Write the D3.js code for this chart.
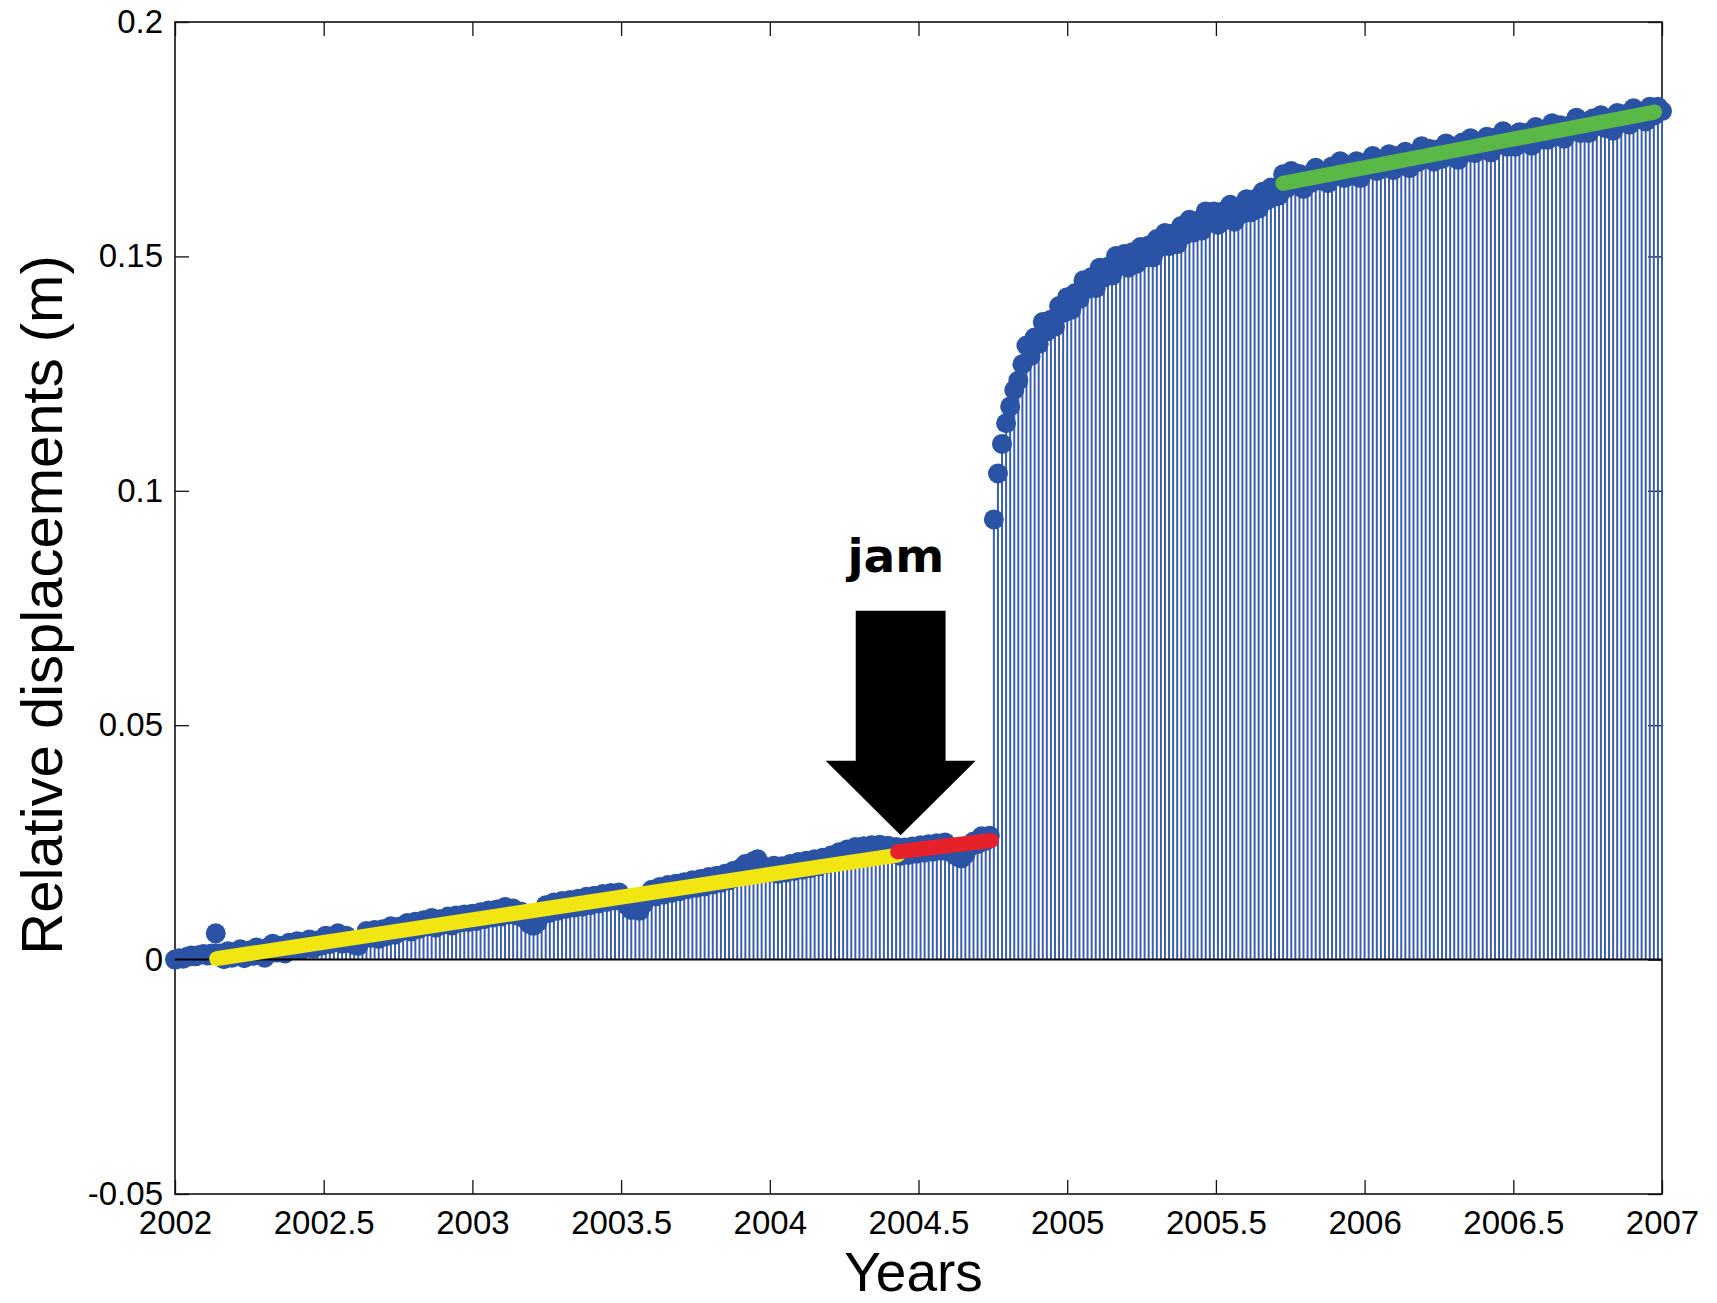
<!DOCTYPE html>
<html>
<head>
<meta charset="utf-8">
<script src="https://cdn.jsdelivr.net/npm/d3@7/dist/d3.min.js"></script>
<style>
  body { margin: 0; background: #fff; }
  svg text { font-family: "Liberation Sans", Arial, sans-serif; }
</style>
</head>
<body>
<svg id="svg-jam"></svg>
<script>
// displacement samples, one every 5 days (73 per year) from 2002.0, in mm
var sampleStart = 2002,
    samplesPerYear = 73;

var displacementMm = [
  0.0, 0.3, 0.2, 0.6, 0.9, 0.7, 1.0, 1.2, 0.9, 1.3,
  5.6, 1.3, 0.1, 1.8, 0.4, 1.6, 2.2, 0.3, 1.9, 0.8,
  2.6, 1.2, 0.4, 2.7, 3.4, 1.5, 2.9, 1.3, 3.6, 2.1,
  3.9, 2.0, 3.7, 4.3, 2.4, 4.1, 3.0, 5.1, 3.3, 4.5,
  5.6, 3.4, 5.1, 4.2, 3.1, 2.9, 4.4, 6.1, 4.6, 6.3,
  4.4, 6.5, 5.0, 7.1, 5.3, 7.0, 6.1, 7.8, 6.0, 8.1,
  6.6, 8.4, 7.1, 8.9, 6.8, 8.6, 7.5, 9.2, 7.3, 9.4,
  7.9, 9.6, 8.0, 9.8, 8.2, 10.1, 8.6, 10.5, 9.0, 10.7,
  9.2, 11.2, 9.6, 10.9, 9.4, 10.2, 8.6, 7.6, 7.2, 8.0,
  9.4, 11.6, 10.0, 12.2, 10.4, 12.5, 10.8, 12.7, 11.1, 13.0,
  11.3, 13.4, 11.6, 13.6, 12.0, 14.0, 12.3, 14.2, 12.6, 14.3,
  12.4, 11.5, 10.6, 11.0, 10.4, 11.9, 13.3, 14.9, 13.5, 15.5,
  13.9, 15.9, 14.2, 16.2, 14.6, 16.5, 15.0, 16.9, 15.3, 17.2,
  15.6, 17.6, 16.0, 17.9, 16.4, 18.3, 16.9, 18.9, 18.0, 19.6,
  20.4, 19.2, 21.0, 21.4, 20.2, 19.4, 18.6, 20.0, 18.3, 19.9,
  18.6, 20.4, 18.9, 20.8, 19.2, 21.1, 19.5, 21.4, 19.9, 21.7,
  20.4, 22.2, 21.0, 22.9, 21.6, 23.5, 22.4, 24.0, 22.8, 24.2,
  23.2, 24.4, 23.1, 24.5, 23.4, 24.3, 22.9, 24.0, 22.1, 23.9,
  22.3, 24.1, 22.6, 24.4, 22.8, 24.6, 23.0, 24.8, 23.2, 25.0,
  23.4, 22.6, 22.0, 21.6, 22.4, 24.0, 25.2, 24.6, 26.3, 25.3,
  26.4, 93.9, 103.7, 110.0, 114.4, 118.0, 121.5, 123.5, 127.0, 131.0,
  128.7, 132.7, 131.3, 136.0, 134.0, 136.5, 135.0, 139.4, 137.9, 141.3,
  138.6, 142.2, 140.9, 144.9, 143.1, 145.6, 143.2, 147.6, 145.5, 147.8,
  145.9, 150.1, 148.1, 150.5, 147.6, 150.9, 148.4, 152.0, 149.8, 152.3,
  149.8, 153.7, 152.0, 155.0, 152.2, 154.9, 152.6, 156.5, 154.7, 157.8,
  155.1, 157.6, 155.5, 159.6, 157.3, 159.6, 156.7, 159.5, 157.8, 161.0,
  157.4, 160.5, 159.1, 162.2, 159.4, 162.2, 160.2, 163.8, 162.0, 164.7,
  162.8, 163.0, 167.5, 164.6, 168.2, 165.7, 167.6, 164.4, 167.3, 165.7,
  168.9, 166.4, 168.0, 165.6, 169.2, 167.6, 170.3, 166.7, 169.1, 167.5,
  170.3, 166.7, 170.0, 168.7, 171.4, 168.2, 170.1, 169.0, 171.8, 168.4,
  171.4, 169.8, 172.3, 168.8, 171.5, 170.1, 173.5, 171.1, 172.9, 170.2,
  172.8, 170.8, 174.1, 171.9, 173.3, 170.6, 174.3, 172.2, 175.2, 172.0,
  174.0, 173.0, 175.5, 172.2, 175.3, 174.0, 176.7, 173.4, 175.5, 173.4,
  176.5, 174.8, 176.4, 173.6, 177.6, 174.9, 176.5, 174.9, 178.4, 175.9,
  178.0, 175.1, 177.8, 176.7, 179.6, 176.3, 178.6, 176.3, 179.4, 177.8,
  180.1, 177.4, 179.2, 176.8, 180.6, 178.5, 180.4, 178.1, 181.6, 179.3,
  180.8, 178.8, 181.9, 180.0, 181.9, 181.0
];

// linear fits drawn over the series: [year, metres]
var fitBefore = [[2002.14, 0.0002], [2004.43, 0.0223]],
    fitJam    = [[2004.43, 0.0230], [2004.745, 0.0254]],
    fitAfter  = [[2005.725, 0.1656], [2006.975, 0.1808]];

var xTicks = [2002, 2002.5, 2003, 2003.5, 2004, 2004.5, 2005, 2005.5, 2006, 2006.5, 2007],
    xTickLabels = ['2002', '2002.5', '2003', '2003.5', '2004', '2004.5', '2005', '2005.5', '2006', '2006.5', '2007'],
    yTicks = [-0.05, 0, 0.05, 0.1, 0.15, 0.2],
    yTickLabels = ['-0.05', '0', '0.05', '0.1', '0.15', '0.2'];

var width = 1717,
    height = 1303,
    plotLeft = 175, plotRight = 1662, plotTop = 22, plotBottom = 1194,
    x = d3.scaleLinear().domain([2002, 2007]).range([plotLeft, plotRight]),
    y = d3.scaleLinear().domain([-0.05, 0.2]).range([plotBottom, plotTop]),
    blue = '#2a53a6';

var points = displacementMm.map(function(v, i) {
  return {t: sampleStart + i / samplesPerYear, v: v / 1000};
});

var svg = d3.select('#svg-jam')
  .attr('width', width)
  .attr('height', height);

svg.append('rect')
  .attr('width', width).attr('height', height)
  .attr('fill', '#fff');

drawAxes();
drawStems();
drawFits();
drawJam();

function drawAxes() {
  var tick = 14;
  var gx = svg.append('g')
    .attr('transform', 'translate(0,' + plotBottom + ')')
    .call(d3.axisBottom(x).tickValues(xTicks)
      .tickFormat(function(d, i) { return xTickLabels[i]; })
      .tickSizeInner(-tick).tickSizeOuter(0).tickPadding(17));
  var gy = svg.append('g')
    .attr('transform', 'translate(' + plotLeft + ',0)')
    .call(d3.axisLeft(y).tickValues(yTicks)
      .tickFormat(function(d, i) { return yTickLabels[i]; })
      .tickSizeInner(-tick).tickSizeOuter(0).tickPadding(12));
  var gt = svg.append('g')
    .attr('transform', 'translate(0,' + plotTop + ')')
    .call(d3.axisTop(x).tickValues(xTicks).tickFormat('')
      .tickSizeInner(-tick).tickSizeOuter(0));
  var gr = svg.append('g')
    .attr('transform', 'translate(' + plotRight + ',0)')
    .call(d3.axisRight(y).tickValues(yTicks).tickFormat('')
      .tickSizeInner(-tick).tickSizeOuter(0));

  [gx, gy, gt, gr].forEach(function(g) {
    g.select('.domain').remove();
    g.attr('font-size', 33).attr('font-family', '"Liberation Sans", Arial, sans-serif');
    g.selectAll('line').attr('stroke', '#111').attr('stroke-width', 1.3);
    g.selectAll('text').attr('fill', '#000');
  });

  svg.append('rect')
    .attr('x', plotLeft).attr('y', plotTop)
    .attr('width', plotRight - plotLeft).attr('height', plotBottom - plotTop)
    .attr('fill', 'none')
    .attr('stroke', '#111')
    .attr('stroke-width', 1.6);

  svg.append('text')
    .attr('x', (plotLeft + plotRight) / 2 - 5)
    .attr('y', 1291)
    .attr('text-anchor', 'middle')
    .attr('font-size', 55)
    .text('Years');

  svg.append('text')
    .attr('transform', 'translate(62,605) rotate(-90)')
    .attr('text-anchor', 'middle')
    .attr('font-size', 58)
    .text('Relative displacements (m)');
}

function drawStems() {
  svg.append('g')
    .attr('class', 'stems')
    .selectAll('line')
    .data(points)
    .enter().append('line')
    .attr('x1', function(d) { return x(d.t); })
    .attr('x2', function(d) { return x(d.t); })
    .attr('y1', y(0))
    .attr('y2', function(d) { return y(d.v); })
    .attr('stroke', '#3a5fb0')
    .attr('stroke-width', 2);

  svg.append('g')
    .attr('class', 'dots')
    .selectAll('circle')
    .data(points)
    .enter().append('circle')
    .attr('cx', function(d) { return x(d.t); })
    .attr('cy', function(d) { return y(d.v); })
    .attr('r', 10)
    .attr('fill', blue);

  // stem baseline
  svg.append('line')
    .attr('x1', x(2002)).attr('x2', x(2007))
    .attr('y1', y(0)).attr('y2', y(0))
    .attr('stroke', '#000')
    .attr('stroke-width', 2);
}

function drawFits() {
  var line = d3.line()
    .x(function(d) { return x(d[0]); })
    .y(function(d) { return y(d[1]); });
  [[fitBefore, '#f1e612'], [fitJam, '#e62129'], [fitAfter, '#5ab946']].forEach(function(f) {
    svg.append('path')
      .attr('d', line(f[0]))
      .attr('fill', 'none')
      .attr('stroke', f[1])
      .attr('stroke-width', 15)
      .attr('stroke-linecap', 'round');
  });
}

function drawJam() {
  // block arrow pointing at the start of the jam, in data units
  var tipX = 2004.44, tipY = 0.0265,
      headY = 0.0424, topY = 0.0744,
      shaftHalf = 0.151, headHalf = 0.252;
  var pts = [
    [tipX - shaftHalf, topY], [tipX + shaftHalf, topY],
    [tipX + shaftHalf, headY], [tipX + headHalf, headY],
    [tipX, tipY],
    [tipX - headHalf, headY], [tipX - shaftHalf, headY]
  ];
  svg.append('path')
    .attr('d', 'M' + pts.map(function(p) { return x(p[0]) + ',' + y(p[1]); }).join('L') + 'Z')
    .attr('fill', '#000');

  svg.append('text')
    .attr('x', x(2004.424))
    .attr('y', y(0.0827))
    .attr('text-anchor', 'middle')
    .attr('font-size', 47)
    .attr('font-weight', 'bold')
    .style('font-family', '"Comic Sans MS", "DejaVu Sans", sans-serif')
    .text('jam');
}
</script>
</body>
</html>
